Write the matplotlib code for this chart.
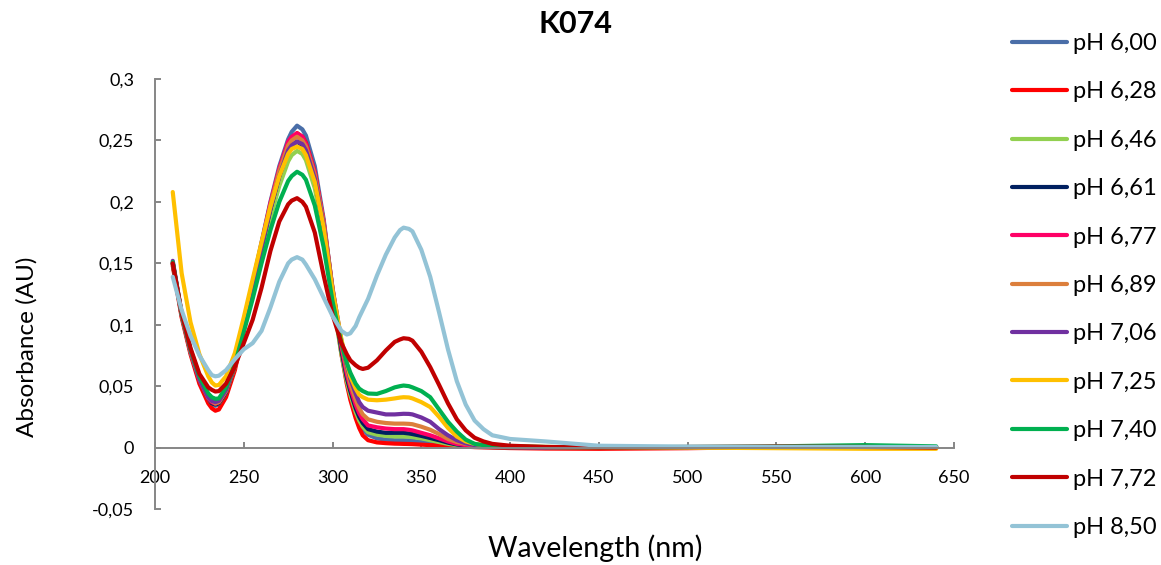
import matplotlib
matplotlib.use("Agg")
import matplotlib.pyplot as plt

plt.rcParams['font.family'] = ['Lato', 'DejaVu Sans']

# wavelengths (nm) shared by all spectra
wavelength = [210, 215, 220, 225, 230, 232, 234, 236, 240, 245,
              250, 255, 260, 265, 270, 275, 277, 280, 283, 285,
              290, 295, 300, 305, 308, 310, 313, 315, 317, 320,
              325, 330, 335, 338, 340, 343, 345, 350, 355, 360,
              365, 370, 375, 380, 385, 390, 400, 420, 450, 500,
              550, 600, 640]

ph_600 = [0.150, 0.108, 0.078, 0.055, 0.040, 0.036, 0.034, 0.035, 0.045, 0.068,
          0.101, 0.134, 0.167, 0.200, 0.229, 0.251, 0.257, 0.262, 0.259, 0.254,
          0.229, 0.186, 0.128, 0.079, 0.056, 0.044, 0.029, 0.021, 0.015, 0.0105,
          0.0075, 0.0065, 0.006, 0.006, 0.006, 0.0058, 0.0055, 0.0045, 0.0035, 0.0025,
          0.0018, 0.0012, 0.0008, 0.0005, 0.0004, 0.0003, 0.0002, 0.0, 0.0, 0.0,
          0.0, 0.0003, 0.0]
ph_628 = [0.148, 0.106, 0.076, 0.052, 0.036, 0.032, 0.030, 0.031, 0.041, 0.063,
          0.096, 0.129, 0.162, 0.194, 0.223, 0.246, 0.252, 0.256, 0.253, 0.248,
          0.224, 0.183, 0.126, 0.076, 0.052, 0.039, 0.024, 0.016, 0.010, 0.006,
          0.0042, 0.0036, 0.0032, 0.0031, 0.003, 0.0029, 0.0028, 0.0024, 0.002, 0.0017,
          0.0014, 0.001, 0.0007, 0.0004, 0.0002, 0.0, -0.0004, -0.0008, -0.001, -0.0005,
          0.0005, 0.0003, 0.0]
ph_646 = [0.149, 0.108, 0.078, 0.055, 0.040, 0.036, 0.035, 0.036, 0.045, 0.066,
          0.097, 0.127, 0.158, 0.187, 0.213, 0.233, 0.238, 0.2415, 0.239, 0.234,
          0.211, 0.173, 0.121, 0.076, 0.054, 0.043, 0.029, 0.022, 0.017, 0.0125,
          0.0105, 0.0095, 0.009, 0.009, 0.009, 0.0088, 0.0085, 0.0075, 0.006, 0.0045,
          0.003, 0.002, 0.0014, 0.001, 0.0007, 0.0005, 0.0003, 0.0, 0.0, 0.0,
          0.0, 0.0, 0.0]
ph_661 = [0.150, 0.108, 0.078, 0.055, 0.040, 0.036, 0.035, 0.036, 0.045, 0.067,
          0.099, 0.131, 0.163, 0.194, 0.221, 0.242, 0.246, 0.249, 0.246, 0.241,
          0.218, 0.179, 0.125, 0.079, 0.057, 0.046, 0.032, 0.025, 0.020, 0.015,
          0.013, 0.012, 0.012, 0.012, 0.012, 0.0115, 0.011, 0.0095, 0.0078, 0.006,
          0.004, 0.0025, 0.0015, 0.001, 0.0007, 0.0005, 0.0003, 0.0, 0.0, 0.0,
          0.0, 0.0, 0.0]
ph_677 = [0.150, 0.108, 0.078, 0.055, 0.040, 0.037, 0.0356, 0.037, 0.046, 0.068,
          0.100, 0.133, 0.166, 0.199, 0.227, 0.249, 0.253, 0.2557, 0.253, 0.247,
          0.224, 0.184, 0.129, 0.082, 0.060, 0.049, 0.035, 0.028, 0.023, 0.018,
          0.0165, 0.0155, 0.015, 0.015, 0.015, 0.0145, 0.014, 0.012, 0.010, 0.0075,
          0.005, 0.003, 0.002, 0.0012, 0.0008, 0.0006, 0.0004, 0.0001, 0.0, 0.0,
          0.0, 0.0, 0.0]
ph_689 = [0.150, 0.108, 0.078, 0.056, 0.041, 0.038, 0.036, 0.037, 0.046, 0.068,
          0.100, 0.133, 0.165, 0.197, 0.225, 0.246, 0.250, 0.253, 0.250, 0.245,
          0.222, 0.183, 0.130, 0.085, 0.064, 0.052, 0.039, 0.032, 0.027, 0.023,
          0.021, 0.020, 0.0195, 0.0195, 0.0195, 0.0193, 0.019, 0.017, 0.0145, 0.011,
          0.007, 0.0045, 0.003, 0.002, 0.0014, 0.001, 0.0005, 0.0002, 0.0, 0.0,
          0.0, 0.0, 0.0]
ph_706 = [0.152, 0.109, 0.079, 0.056, 0.041, 0.038, 0.037, 0.038, 0.047, 0.068,
          0.099, 0.131, 0.163, 0.194, 0.221, 0.242, 0.246, 0.249, 0.247, 0.242,
          0.219, 0.181, 0.129, 0.087, 0.067, 0.056, 0.044, 0.037, 0.033, 0.030,
          0.0285, 0.027, 0.027, 0.0273, 0.0275, 0.0274, 0.027, 0.0245, 0.021, 0.015,
          0.010, 0.006, 0.0035, 0.002, 0.0014, 0.001, 0.0005, 0.0002, 0.0, 0.0,
          0.0, 0.0, 0.0]
ph_725 = [0.208, 0.142, 0.102, 0.076, 0.058, 0.053, 0.0505, 0.051, 0.058, 0.077,
          0.106, 0.137, 0.167, 0.196, 0.221, 0.239, 0.243, 0.245, 0.243, 0.238,
          0.216, 0.179, 0.128, 0.088, 0.069, 0.058, 0.048, 0.043, 0.041, 0.039,
          0.0385, 0.039, 0.040, 0.0407, 0.041, 0.0408, 0.040, 0.037, 0.033, 0.025,
          0.016, 0.009, 0.005, 0.003, 0.002, 0.0015, 0.001, 0.0005, 0.0, 0.0,
          -0.0005, -0.001, -0.001]
ph_740 = [0.151, 0.109, 0.080, 0.058, 0.044, 0.041, 0.0397, 0.040, 0.049, 0.068,
          0.094, 0.121, 0.150, 0.177, 0.200, 0.217, 0.221, 0.2245, 0.222, 0.218,
          0.197, 0.163, 0.119, 0.085, 0.069, 0.061, 0.052, 0.048, 0.046, 0.044,
          0.0437, 0.046, 0.049, 0.050, 0.0505, 0.050, 0.049, 0.046, 0.041, 0.031,
          0.021, 0.013, 0.0065, 0.003, 0.002, 0.0015, 0.001, 0.0005, 0.0003, 0.0005,
          0.001, 0.002, 0.001]
ph_772 = [0.150, 0.110, 0.081, 0.060, 0.049, 0.047, 0.0456, 0.046, 0.052, 0.066,
          0.085, 0.104, 0.130, 0.160, 0.184, 0.198, 0.201, 0.203, 0.200, 0.196,
          0.175, 0.140, 0.108, 0.085, 0.076, 0.071, 0.067, 0.065, 0.064, 0.065,
          0.071, 0.079, 0.086, 0.088, 0.089, 0.0885, 0.087, 0.078, 0.0655, 0.051,
          0.036, 0.023, 0.014, 0.008, 0.005, 0.003, 0.0015, 0.0005, 0.0, 0.0005,
          0.0008, 0.0005, 0.0]
ph_850 = [0.139, 0.112, 0.091, 0.075, 0.063, 0.059, 0.058, 0.0585, 0.063, 0.072,
          0.080, 0.085, 0.095, 0.114, 0.135, 0.150, 0.153, 0.155, 0.153, 0.149,
          0.137, 0.122, 0.107, 0.095, 0.092, 0.093, 0.099, 0.106, 0.112, 0.121,
          0.140, 0.157, 0.171, 0.177, 0.179, 0.178, 0.176, 0.161, 0.139, 0.110,
          0.080, 0.054, 0.035, 0.022, 0.015, 0.010, 0.007, 0.005, 0.0015, 0.0008,
          0.0005, 0.0005, 0.0005]

labels = ['pH 6,00', 'pH 6,28', 'pH 6,46', 'pH 6,61', 'pH 6,77', 'pH 6,89',
          'pH 7,06', 'pH 7,25', 'pH 7,40', 'pH 7,72', 'pH 8,50']
spectra = [ph_600, ph_628, ph_646, ph_661, ph_677, ph_689,
           ph_706, ph_725, ph_740, ph_772, ph_850]
colors = ['#4A6EA8', '#FF0000', '#92D050', '#002060', '#FF0066', '#DC7F3C',
          '#7030A0', '#FFC000', '#00B050', '#C00000', '#93C3D6']

x_ticks = [200, 250, 300, 350, 400, 450, 500, 550, 600, 650]
y_ticks = [-0.05, 0, 0.05, 0.1, 0.15, 0.2, 0.25, 0.3]
y_tick_labels = ['-0,05', '0', '0,05', '0,1', '0,15', '0,2', '0,25', '0,3']

fig = plt.figure(figsize=(11.61, 5.65), dpi=100)
ax = fig.add_axes([0.1335, 0.0991, 0.6882, 0.7611])

handles = []
for y, c, lab in zip(spectra, colors, labels):
    line, = ax.plot(wavelength, y, color=c, linewidth=3.0, label=lab,
                    solid_capstyle='round', solid_joinstyle='round')
    handles.append(line)

ax.set_xlim(200, 650)
ax.set_ylim(-0.05, 0.3)
ax.set_xticks(x_ticks)
ax.set_xticklabels([str(v) for v in x_ticks])
ax.set_yticks(y_ticks)
ax.set_yticklabels(y_tick_labels)

axis_grey = '#868686'
for s in ['top', 'right']:
    ax.spines[s].set_visible(False)
ax.spines['bottom'].set_position(('data', 0))
for s in ['bottom', 'left']:
    ax.spines[s].set_color(axis_grey)
    ax.spines[s].set_linewidth(1.4)

ax.tick_params(axis='both', direction='in', length=4, width=1.4,
               color=axis_grey, labelsize=13, labelcolor='#000000')
ax.tick_params(axis='x', pad=16)
ax.tick_params(axis='y', pad=15)

fig.text(0.496, 0.957, 'K074', ha='center', va='center',
         fontsize=22, fontweight='bold')
fig.text(0.513, 0.030, 'Wavelength (nm)', ha='center', va='center', fontsize=20.5)
fig.text(0.023, 0.386, 'Absorbance (AU)', ha='center', va='center',
         rotation=90, fontsize=17.5)

fig.legend(handles=handles, labels=labels, loc='upper left',
           bbox_to_anchor=(1012 / 1161, 1 - 33 / 565), frameon=False,
           fontsize=17, handlelength=2.33, handletextpad=0.25,
           labelspacing=1.16, borderpad=0, borderaxespad=0)

fig.savefig('out.png', dpi=100)
